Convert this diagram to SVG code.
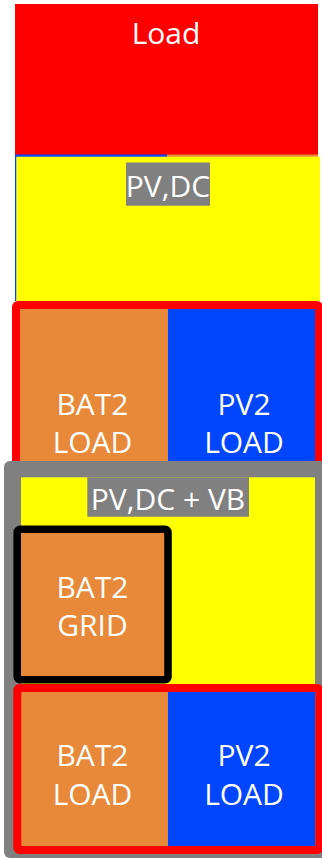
<svg xmlns="http://www.w3.org/2000/svg" width="322" height="858" viewBox="0 0 322 858">
<style>
text{font-family:"Open Sans","Noto Sans","DejaVu Sans",sans-serif;font-size:30px;fill:#fff;text-anchor:middle}
.or{fill:#E8893A}.bl{fill:#0046FF}.ye{fill:#FFFF00}.rd{fill:#FF0000}.gr{fill:#808080}
.rb{fill:none;stroke:#FF0000;stroke-width:8}
</style>
<rect width="322" height="858" fill="#fff"/>
<g id="behind">
<rect class="bl" x="15" y="154" width="152" height="3"/>
<rect class="or" x="167" y="154" width="151" height="3"/>
<rect class="bl" x="15" y="155" width="1.5" height="146"/>
</g>
<g id="load">
<rect class="rd" x="15" y="4" width="303" height="150.5"/>
<text x="166" y="44">Load</text>
</g>
<g id="pvdc">
<rect class="ye" x="16.5" y="156.7" width="303.5" height="144.3"/>
<rect class="gr" x="126" y="162.5" width="84" height="43.2"/>
<text x="168" y="197">PV,DC</text>
</g>
<g id="load-box-1">
<rect class="or" x="20" y="309" width="148" height="160"/>
<rect class="bl" x="168" y="309" width="147" height="160"/>
<rect class="rb" x="16" y="305" width="303" height="170" rx="2"/>
<text x="92.5" y="415">BAT2</text>
<text x="92.5" y="452.7">LOAD</text>
<text x="244" y="415">PV2</text>
<text x="244" y="452.7">LOAD</text>
</g>
<g id="vb-box">
<rect class="gr" x="4" y="461" width="330" height="397" rx="6"/>
<rect class="ye" x="21" y="477.3" width="294" height="210"/>
<rect class="gr" x="87.3" y="477.3" width="161.7" height="39.4"/>
<text x="168" y="510">PV,DC + VB</text>
</g>
<g id="bat2-grid">
<rect class="or" x="20" y="532" width="146" height="146"/>
<rect x="17.2" y="529.2" width="150.8" height="150.5" rx="3" fill="none" stroke="#000" stroke-width="7.6"/>
<text x="92.5" y="597.7">BAT2</text>
<text x="92.5" y="635.7">GRID</text>
</g>
<g id="load-box-2">
<rect class="or" x="21" y="692" width="147" height="155"/>
<rect class="bl" x="168" y="692" width="147" height="155"/>
<rect class="rb" x="17.3" y="688" width="302" height="162" rx="2"/>
<text x="92.5" y="765.7">BAT2</text>
<text x="92.5" y="805">LOAD</text>
<text x="244" y="765.7">PV2</text>
<text x="244" y="805">LOAD</text>
</g>
<g id="connectors"/>
</svg>
